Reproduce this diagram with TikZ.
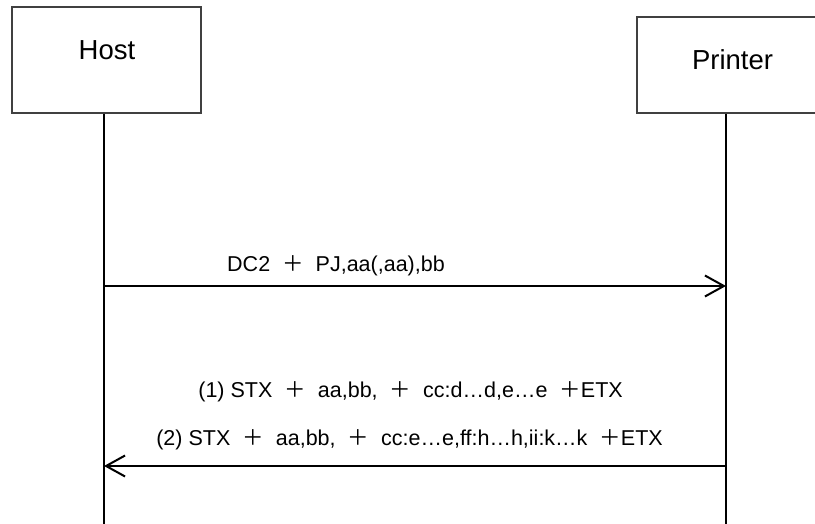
\documentclass[tikz,border=0pt]{standalone}
\usepackage{fontspec}
\setmainfont{Liberation Sans}
\newfontfamily\cjk{Noto Sans CJK JP}
\usetikzlibrary{arrows.meta,positioning}
\newcommand{\fwplus}{{\cjk ＋}}
\newcommand{\wplus}{\hspace{12pt}\fwplus\hspace{12pt}}

\begin{document}
\begin{tikzpicture}[
  x=1pt, y=-1pt,
  every node/.style={font=\fontsize{21.5}{26}\selectfont, inner sep=0pt},
  party/.style={rectangle, draw=black!75, line width=1.5pt},
  partytext/.style={font=\fontsize{27.5}{32}\selectfont},
  life/.style={line width=2pt},
  msg/.style={-{Straight Barb[length=19pt,width=21pt,line width=2pt]}, line width=2.5pt},
]
\useasboundingbox (0,0) rectangle (815,524);

% parties
\node[party, minimum width=189, minimum height=106] (host) at (106.5,60) {};
\node[party, minimum width=182, minimum height=96] (printer) at (728,65) {};
\node[partytext] (hostName) at (107,50.5) {Host};
\node[partytext] (printerName) at (732.5,60) {Printer};

% lifelines
\coordinate (hostEnd) at (104,524);
\coordinate (printerEnd) at (726,524);
\draw[life] (hostEnd |- host.south) -- (hostEnd);
\draw[life] (printerEnd |- printer.south) -- (printerEnd);

% request
\coordinate (reqFrom) at (104,286);
\coordinate (reqTo) at (726,286);
\draw[msg] (reqFrom) -- (reqTo);
\node[anchor=base east] (reqText) at (445,272) {DC2\wplus PJ,aa(,aa),bb};

% reply
\coordinate (ansFrom) at (726,466);
\coordinate (ansTo) at (104,466);
\draw[msg] (ansFrom) -- (ansTo);
\node[anchor=base east] (ansOne) at (623,397) {(1) STX\wplus aa,bb,\wplus cc:d…d,e…e\hspace{12pt}\fwplus ETX};
\node[anchor=base east] (ansTwo) at (663,445) {(2) STX\wplus aa,bb,\wplus cc:e…e,ff:h…h,ii:k…k\hspace{12pt}\fwplus ETX};

\end{tikzpicture}
\end{document}
